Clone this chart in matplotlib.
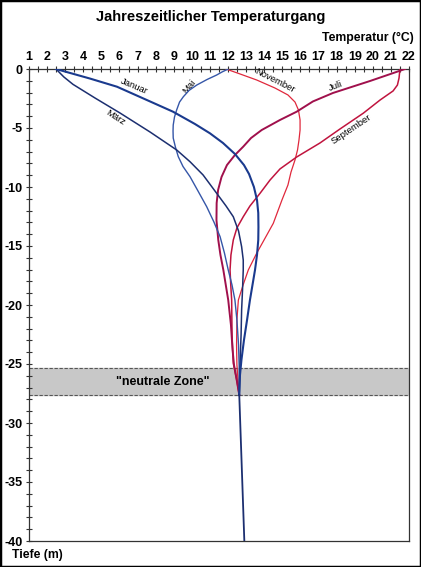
import matplotlib
matplotlib.use("Agg")
import matplotlib.pyplot as plt
from matplotlib.patches import Rectangle
from matplotlib.ticker import MultipleLocator

plt.rcParams['font.family'] = ['Liberation Sans', 'DejaVu Sans']
plt.rcParams['axes.unicode_minus'] = False

# ---- data (temperature in °C, depth in m) ----
jan_T = [2.49, 4.37, 5.86, 7.69, 8.96, 10.17, 11.0, 11.72, 12.38, 12.88, 13.16, 13.43,
         13.60, 13.67, 13.68, 13.67, 13.60, 13.49, 13.35, 13.21, 13.05, 12.88, 12.74,
         12.66, 12.62]
jan_d = [0, -0.81, -1.5, -2.75, -3.62, -4.66, -5.45, -6.27, -7.2, -8.14, -8.9, -10.0,
         -11.1, -12.2, -13.39, -14.49, -15.76, -17.03, -18.31, -19.58, -21.27, -22.97,
         -24.66, -25.93, -27.63]

mar_T = [2.49, 2.71, 2.93, 3.43, 4.65, 6.03, 7.69, 9.16, 9.90, 10.62, 11.37, 11.89,
         12.29, 12.58, 12.75, 12.84, 12.84, 12.80, 12.75, 12.72, 12.68, 12.65, 12.62]
mar_d = [0, -0.34, -0.68, -1.30, -2.46, -3.73, -5.34, -6.86, -7.86, -8.98, -10.53,
         -11.61, -12.52, -13.73, -15.06, -16.19, -17.03, -18.73, -20.42, -22.54,
         -24.24, -25.93, -27.63]

mai_T = [12.01, 11.67, 11.37, 10.84, 10.27, 9.84, 9.53, 9.32, 9.16, 9.04, 8.97, 8.96,
         8.97, 9.09, 9.25, 9.51, 9.90, 10.34, 10.82, 11.22, 11.56, 11.80, 12.01, 12.22,
         12.38, 12.49, 12.58, 12.62, 12.62]
mai_d = [0, -0.25, -0.51, -0.89, -1.36, -1.82, -2.35, -2.80, -3.47, -4.07, -4.75,
         -5.25, -5.85, -6.61, -7.43, -8.26, -9.13, -10.34, -11.67, -12.97, -14.21,
         -15.59, -17.03, -18.31, -19.58, -21.27, -23.39, -25.51, -27.63]

jul_T = [21.78, 19.84, 17.80, 16.69, 15.79, 14.87, 13.86, 13.27, 12.84, 12.38, 11.94,
         11.64, 11.45, 11.37, 11.36, 11.46, 11.58, 11.74, 12.01, 12.16, 12.25, 12.33,
         12.48, 12.62]
jul_d = [0, -1.02, -2.03, -2.75, -3.62, -4.32, -5.17, -5.85, -6.58, -7.29, -8.14,
         -9.15, -10.25, -11.36, -12.80, -14.49, -15.76, -17.03, -19.58, -21.69,
         -23.81, -25.08, -26.36, -27.63]

sep_T = [21.50, 21.45, 21.36, 21.12, 20.40, 19.47, 18.19, 17.08, 15.79, 14.87, 14.32,
         13.77, 13.21, 12.84, 12.49, 12.29, 12.16, 12.11, 12.15, 12.20, 12.22, 12.29,
         12.48, 12.62]
sep_d = [0, -0.76, -1.36, -1.86, -2.63, -3.75, -5.08, -6.27, -7.46, -8.47, -9.41,
         -10.53, -11.61, -12.52, -13.47, -14.49, -15.76, -17.03, -18.31, -19.58,
         -22.54, -24.94, -26.36, -27.63]

nov_T = [11.89, 12.66, 13.58, 14.59, 15.31, 15.70, 15.89, 15.98, 15.98, 15.92, 15.84,
         15.70, 15.48, 15.31, 14.98, 14.50, 13.99, 13.58, 13.12, 12.83, 12.57, 12.49,
         12.47, 12.49, 12.55, 12.62]
nov_d = [0, -0.42, -0.93, -1.61, -2.20, -2.80, -3.47, -4.32, -5.17, -6.02, -6.86,
         -7.71, -8.73, -9.83, -11.10, -13.08, -14.49, -15.62, -17.03, -18.31, -19.58,
         -21.27, -23.39, -25.08, -26.36, -27.63]

deep_T = [12.62, 12.90]
deep_d = [-27.63, -40.0]

zone_top = -25.3
zone_bottom = -27.65

labels = ["Januar", "März", "Mai", "Juli", "September", "November"]

# ---- figure ----
fig = plt.figure(figsize=(4.21, 5.67), dpi=100)
ax = fig.add_axes([29/421, 1-541/567, (409-29)/421, (541-69)/567])

ax.axhspan(zone_bottom, zone_top, color='#c8c8c8', zorder=0)
ax.axhline(zone_top, color='#555555', lw=0.8, ls=(0, (3, 1.5)), zorder=1)
ax.axhline(zone_bottom, color='#555555', lw=0.8, ls=(0, (3, 1.5)), zorder=1)
ax.text(8.4, -26.5, '"neutrale Zone"', ha='center', va='center',
        fontsize=9, fontweight='bold')

ax.plot(nov_T, nov_d, color='#e0283c', lw=0.9, zorder=3)
ax.plot(sep_T, sep_d, color='#c0143e', lw=1.1, zorder=3)
ax.plot(jul_T, jul_d, color='#a0104c', lw=1.4, zorder=3)
ax.plot(mai_T, mai_d, color='#3556a8', lw=1.0, zorder=4)
ax.plot(mar_T, mar_d, color='#1c2f70', lw=1.1, zorder=4)
ax.plot(jan_T, jan_d, color='#1a3a8e', lw=1.5, zorder=4)
ax.plot(deep_T, deep_d, color='#1c2f70', lw=1.3, zorder=5)

lab_kw = dict(fontsize=6.8, ha='center', va='center', rotation_mode='anchor')
ax.text(6.8, -1.5, labels[0], rotation=-23, **lab_kw)
ax.text(5.75, -4.1, labels[1], rotation=-33, **lab_kw)
ax.text(9.85, -1.5, labels[2], rotation=50, **lab_kw)
ax.text(17.95, -1.45, labels[3], rotation=21, **lab_kw)
ax.text(18.8, -5.1, labels[4], rotation=34, **lab_kw)
ax.text(14.6, -0.95, labels[5], rotation=-27, **lab_kw)

ax.set_xlim(1, 22)
ax.set_ylim(-40, 0)
ax.xaxis.tick_top()
ax.xaxis.set_major_locator(MultipleLocator(1))
ax.xaxis.set_minor_locator(MultipleLocator(0.5))
ax.yaxis.set_major_locator(MultipleLocator(5))
ax.yaxis.set_minor_locator(MultipleLocator(1))
ax.tick_params(axis='both', which='both', direction='inout', length=5,
               width=0.8, color='#333333', labelsize=9)
ax.tick_params(axis='x', which='major', pad=2)
ax.tick_params(axis='y', which='major', pad=2)
for lab in ax.get_xticklabels() + ax.get_yticklabels():
    lab.set_fontweight('bold')
for s in ax.spines.values():
    s.set_color('#333333')
    s.set_linewidth(0.9)

fig.text(0.5, 1-17/567, "Jahreszeitlicher Temperaturgang", ha='center',
         va='center', fontsize=10.5, fontweight='bold')
fig.text(414/421, 1-38/567, "Temperatur (°C)", ha='right', va='center',
         fontsize=8.8, fontweight='bold')
fig.text(12/421, 1-555/567, "Tiefe (m)", ha='left', va='center',
         fontsize=8.8, fontweight='bold')

fig.patches.append(Rectangle((0, 0), 1, 1, transform=fig.transFigure,
                             fill=False, ec='black', lw=2.5))

fig.savefig("out.png", dpi=100)
